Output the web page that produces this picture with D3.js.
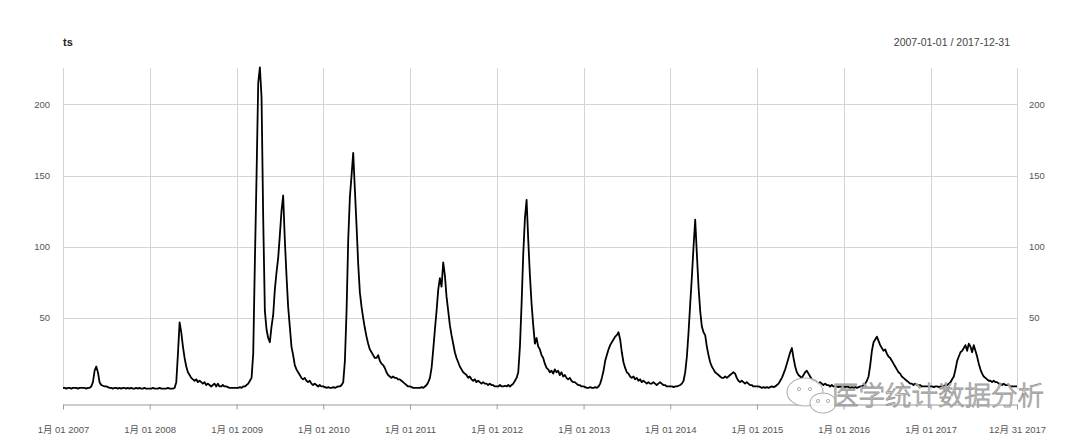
<!DOCTYPE html>
<html><head><meta charset="utf-8">
<script src="https://cdn.jsdelivr.net/npm/d3@7"></script>
<style>
body{margin:0;background:#fff}
svg text{font-family:"Liberation Sans",Arial,"Noto Sans CJK SC",sans-serif}
</style></head>
<body><svg id="c" width="1080" height="441"></svg>
<script>
// ---- data: weekly values (index i = week starting Jan 1 + 7*i) ----
const years = [2007,2008,2009,2010,2011,2012,2013,2014,2015,2016,2017];
const v2007 = [1,1,0.5,1,1,0.5,1,1,1,0.5,1,1,1,1,0.5,1,1,2,5,13,16,12,5,3,2.5,2,2,1.5,1,1,0.5,1,1,0.5,1,0.5,1,1,0.5,1,0.5,1,0.5,0.5,1,0.5,1,0.5,0.5,1,0.5,0.5];
const v2008 = [0.5,0.5,1,0.5,0.5,0.5,1,0.5,0.5,0.5,0.5,1,0.5,0.5,0.5,1,5,25,47,40,30,22,16,12,10,8,7,6,7,5,6,5,4,5,3,4,3,2,3,4,2,4,2,2,3,2,2,1.5,1,1,1,1];
const v2009 = [1,1,1.5,1,2,2,3,4,6,8,25,90,150,215,226,205,120,55,42,36,33,44,52,70,82,92,108,125,136,105,80,58,44,30,24,17,14,12,10,8,7,8,6,5,6,4,3,4,3,2,3,2];
const v2010 = [2,1.5,1,1.5,1,1,1.5,1,1.5,2,2,3,5,20,55,105,135,150,166,140,115,88,68,58,50,43,37,32,28,26,24,22,22,24,20,18,17,15,12,10,9,8,9,8,8,7,7,6,5,4,3,2];
const v2011 = [2,1.5,1,1,1,1,1,1.5,1,2,3,5,8,15,28,42,55,70,78,72,89,80,65,55,45,38,32,26,22,19,16,14,12,11,10,8,9,7,6,7,5,6,5,4,5,4,4,3,4,3,3,2];
const v2012 = [2,2,3,2,2,2.5,2,3,2,3,4,6,8,12,30,60,95,120,133,105,80,60,45,32,36,30,28,24,22,18,15,14,12,13,11,14,12,13,10,12,9,10,8,7,8,6,5,5,4,3,3,2];
const v2013 = [2,1.5,1,1,1.5,1,1,1.5,1,2,4,8,13,20,24,28,31,33,35,37,38,40,35,26,19,15,12,11,9,8,9,7,8,6,7,5,6,5,4,5,4,4,5,4,3,4,5,4,3,3,2,2];
const v2014 = [2,2,1.5,2,2,2.5,3,4,6,12,23,40,60,79,100,119,95,72,55,44,40,38,30,24,19,16,14,12,11,10,9,8,8,9,8,9,10,11,12,11,8,6,5,6,5,4,5,4,3,3,2,2];
const v2015 = [2,2,1.5,1,1.5,1,1.5,1,1.5,2,1.5,2,3,4,6,8,11,14,18,22,26,29,22,16,12,10,9,8,10,12,13,11,9,7,6,6,5,4,5,4,3,4,3,3,2,3,2,2,2,1.5,2,1.5];
const v2016 = [2,1.5,2,1.5,1,1.5,1,1.5,1,1.5,2,2,3,4,6,9,17,27,33,35,37,34,31,29,27,28,25,23,22,20,18,16,14,12,11,9,8,7,6,5,4,4,3,4,3,3,3,2,2,2,2,2];
const v2017 = [2,2,1.5,2,2,1.5,2,2,2.5,3,3,4,5,7,9,14,20,23,26,27,29,31,27,32,30,26,31,27,23,18,14,11,9,8,7,6,6,5,6,5,5,4,4,3,4,3,3,3,2,2,2,2];
const endValue = 2; // 2017-12-31
const yTicks = [50,100,150,200];
const xTickLabels = ["1月 01 2007","1月 01 2008","1月 01 2009","1月 01 2010","1月 01 2011","1月 01 2012","1月 01 2013","1月 01 2014","1月 01 2015","1月 01 2016","1月 01 2017","12月 31 2017"];
const titleText = "ts";
const rangeText = "2007-01-01 / 2017-12-31";
const watermark = "医学统计数据分析";

const series = [v2007,v2008,v2009,v2010,v2011,v2012,v2013,v2014,v2015,v2016,v2017];
const xStart = new Date(Date.UTC(2007,0,1)), xEnd = new Date(Date.UTC(2017,11,31));
const data = [];
years.forEach((yr,k)=>series[k].forEach((v,i)=>data.push({d:new Date(Date.UTC(yr,0,1+7*i)), v})));
data.push({d:xEnd, v:endValue});
const tickDates = years.map(yr=>new Date(Date.UTC(yr,0,1))).concat([xEnd]);

const svg = d3.select("#c");
const x = d3.scaleUtc().domain([xStart,xEnd]).range([63,1017]);
const y = d3.scaleLinear().domain([0,225.5]).range([389.3,68]);

// grid
const g = svg.append("g").attr("stroke","#d4d4d4").attr("stroke-width",1);
g.selectAll(".h").data(yTicks).join("line")
  .attr("x1",x(xStart)).attr("x2",x(xEnd))
  .attr("y1",d=>Math.round(y(d))+0.5).attr("y2",d=>Math.round(y(d))+0.5);
g.selectAll(".v").data(tickDates).join("line")
  .attr("x1",d=>Math.round(x(d))+0.5).attr("x2",d=>Math.round(x(d))+0.5)
  .attr("y1",y(225.5)).attr("y2",y(0));

// series line
svg.append("path").datum(data)
  .attr("fill","none").attr("stroke","#000").attr("stroke-width",1.8)
  .attr("stroke-linejoin","round")
  .attr("d",d3.line().x(d=>x(d.d)).y(d=>y(d.v)));

// x axis
const ax = svg.append("g").attr("transform","translate(0,404.5)")
  .call(d3.axisBottom(x).tickValues(tickDates).tickFormat((d,i)=>xTickLabels[i]).tickSize(5).tickSizeOuter(0).tickPadding(17));
ax.select(".domain").attr("stroke","#999");
ax.selectAll(".tick line").attr("stroke","#999");
ax.selectAll(".tick text").attr("fill","#555").style("font-size","9.5px").style("font-family",'"Liberation Sans",Arial,"Noto Sans CJK SC",sans-serif');

// y labels
svg.append("g").selectAll("text").data(yTicks).join("text")
  .attr("x",50).attr("y",d=>y(d)).attr("dy","0.35em").attr("text-anchor","end")
  .attr("fill","#555").style("font-size","9.5px").text(d=>d);
svg.append("g").selectAll("text").data(yTicks).join("text")
  .attr("x",1029).attr("y",d=>y(d)).attr("dy","0.35em").attr("text-anchor","start")
  .attr("fill","#555").style("font-size","9.5px").text(d=>d);

// titles
svg.append("text").attr("x",63).attr("y",46).attr("font-weight","bold")
  .attr("fill","#222").style("font-size","11px").text(titleText);
svg.append("text").attr("x",1010).attr("y",46).attr("text-anchor","end")
  .attr("fill","#444").style("font-size","10.5px").text(rangeText);

// watermark
const wm = svg.append("g");
wm.append("ellipse").attr("cx",805).attr("cy",392).attr("rx",18).attr("ry",14)
  .attr("fill","rgba(255,255,255,0.85)").attr("stroke","#b0b0b0").attr("stroke-width",1.1);
wm.append("ellipse").attr("cx",823).attr("cy",403).attr("rx",13).attr("ry",10)
  .attr("fill","rgba(255,255,255,0.85)").attr("stroke","#b0b0b0").attr("stroke-width",1.1);
[[799,389],[810,389],[818,401],[828,401]].forEach(p=>wm.append("circle").attr("cx",p[0]).attr("cy",p[1]).attr("r",1.6).attr("fill","none").attr("stroke","#b0b0b0"));
wm.append("text").attr("x",832).attr("y",405)
  .attr("fill","rgba(255,255,255,0.85)").attr("stroke","#9a9a9a").attr("stroke-width",0.9)
  .style("font-family",'"Noto Sans CJK SC",sans-serif').style("font-size","26.5px").style("font-weight","300")
  .text(watermark);
</script></body></html>
